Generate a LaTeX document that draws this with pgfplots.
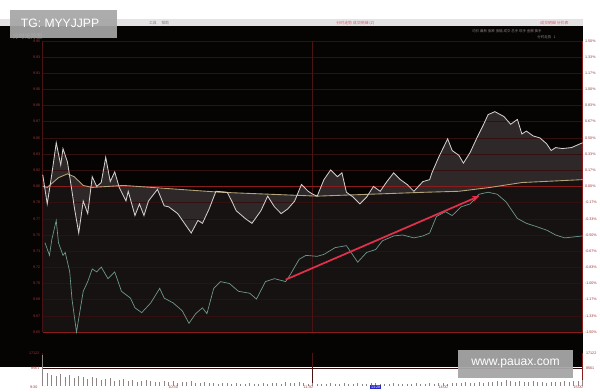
\documentclass[border=0pt]{standalone}
\usepackage{pgfplots}
\pgfplotsset{compat=1.18}
\usepgfplotslibrary{fillbetween}
\usetikzlibrary{arrows.meta}
\usepackage{fontspec}
\setmainfont{Liberation Sans}
\newfontfamily\cjk{Noto Sans CJK SC}
\definecolor{bg}{HTML}{060303}
\definecolor{gridc}{HTML}{321010}
\definecolor{vsep}{HTML}{481414}
\definecolor{redline}{HTML}{8A1C1C}
\definecolor{lab}{HTML}{9A3535}
\definecolor{pricec}{HTML}{D4D0D0}
\definecolor{avgc}{HTML}{B4A47A}
\definecolor{tealc}{HTML}{6E9A8E}
\definecolor{arrowc}{HTML}{E0304A}
\definecolor{volc}{HTML}{8E8484}
\definecolor{wm}{HTML}{A6A6A6}
\definecolor{toolbar}{HTML}{E4E2E2}
\definecolor{pinkt}{HTML}{D25A6E}
\definecolor{hdr}{HTML}{8C8282}
\definecolor{fillhi}{HTML}{2E2828}
\definecolor{filllo}{HTML}{161212}
\definecolor{cursor}{HTML}{2828C8}

\pgfdeclarelayer{canvas}
\pgfdeclarelayer{axis background}
\pgfdeclarelayer{axis grid}
\pgfdeclarelayer{axis ticks}
\pgfdeclarelayer{axis lines}
\pgfdeclarelayer{axis tick labels}
\pgfdeclarelayer{pre main}
\pgfdeclarelayer{axis descriptions}
\pgfdeclarelayer{axis foreground}
\pgfdeclarelayer{top}
\pgfplotsset{
  layers/mine/.define layer set={canvas,axis background,axis grid,axis ticks,axis lines,axis tick labels,pre main,main,axis descriptions,axis foreground,top}{},
  set layers=mine,
}

\pgfplotstableread{
t p
0 0.12
2 -0.18
4 0.12
6 0.45
8 0.22
9 0.39
11 0.25
13 -0.05
14 -0.21
16 -0.48
18 -0.15
20 -0.28
22 0.10
24 0.00
26 0.04
28 0.30
30 0.05
32 0.15
34 -0.01
37 -0.15
38 -0.05
41 -0.30
43 -0.18
45 -0.30
47 -0.15
51 -0.03
54 -0.20
56 -0.21
60 -0.28
63 -0.38
66 -0.48
69 -0.35
71 -0.38
74 -0.23
77 -0.05
82 -0.06
84 -0.15
86 -0.25
90 -0.33
93 -0.38
97 -0.25
100 -0.10
103 -0.21
106 -0.28
109 -0.23
112 -0.15
115 0.02
118 -0.05
120 -0.08
122 -0.10
125 0.07
128 0.17
131 0.10
133 0.14
135 -0.06
138 -0.11
141 -0.18
144 -0.11
147 0.00
150 -0.05
153 0.05
156 0.14
159 0.07
162 0.02
165 -0.05
167 0.00
169 0.05
172 0.07
173 0.14
176 0.30
180 0.49
182 0.37
185 0.32
187 0.24
190 0.35
193 0.50
196 0.64
198 0.74
201 0.77
205 0.72
208 0.64
211 0.69
213 0.54
215 0.57
218 0.52
221 0.50
224 0.44
226 0.37
228 0.40
231 0.39
235 0.40
240 0.45
}\pricedata

\pgfplotstableread{
t p
0 0.00
2 -0.01
7 0.09
11 0.13
14 0.10
18 0.01
22 -0.01
36 0.01
79 -0.06
122 -0.10
170 -0.06
185 -0.05
199 -0.01
213 0.04
240 0.07
}\avgdata

\pgfplotstableread{
t p
1 -0.58
3 -0.71
4 -0.55
6 -0.35
7 -0.58
9 -0.71
10 -0.68
12 -0.88
13 -1.16
15 -1.50
18 -1.08
20 -0.98
22 -0.85
24 -0.88
26 -0.83
29 -0.95
32 -0.88
35 -1.08
39 -1.15
41 -1.25
44 -1.30
48 -1.20
52 -1.05
54 -1.15
58 -1.20
62 -1.28
65 -1.41
68 -1.31
71 -1.25
73 -1.31
76 -1.05
79 -0.98
83 -1.00
87 -1.08
92 -1.10
95 -1.16
99 -0.98
103 -0.95
108 -0.98
110 -0.91
114 -0.75
117 -0.71
122 -0.72
125 -0.70
130 -0.63
135 -0.61
140 -0.78
144 -0.68
148 -0.65
151 -0.56
156 -0.51
160 -0.50
165 -0.53
169 -0.51
172 -0.48
175 -0.31
179 -0.26
182 -0.30
186 -0.21
190 -0.18
194 -0.08
198 -0.06
202 -0.08
206 -0.16
211 -0.33
215 -0.38
219 -0.41
224 -0.45
228 -0.50
232 -0.53
240 -0.51
}\tealdata

\pgfplotstableread{
t v
0 3200
2 1300
4 1100
6 1000
8 1200
10 900
12 1100
14 800
16 1000
18 900
20 700
22 900
24 800
26 600
28 700
30 800
32 500
34 600
36 700
38 500
40 600
42 450
44 500
46 650
48 500
50 400
52 450
54 550
56 400
58 500
60 350
62 450
64 400
66 500
68 350
70 300
72 400
74 300
76 350
78 250
80 300
82 350
84 250
86 300
88 250
90 200
92 300
94 250
96 200
98 300
100 250
102 350
104 300
106 250
108 400
110 300
112 350
114 450
116 300
118 250
120 300
122 250
124 200
126 250
128 300
130 200
132 250
134 300
136 200
138 250
140 300
142 250
144 200
146 300
148 350
150 250
152 200
154 250
156 300
158 200
160 250
162 200
164 250
166 300
168 250
170 200
172 300
174 250
176 350
178 300
180 250
182 300
184 350
186 300
188 400
190 350
192 300
194 400
196 350
198 450
200 400
202 500
204 450
206 600
208 500
210 450
212 550
214 400
216 450
218 500
220 400
222 450
224 350
226 400
228 450
230 400
232 500
234 450
236 550
238 500
240 600
}\voldata

\pgfplotsset{
  panel/.style={
    scale only axis, width=556pt, height=300pt,
    xmin=0, xmax=240, ymin=-1.5, ymax=1.5,
    axis line style={draw=none}, major tick length=0pt,
    xtick=\empty,
    ytick={-1.5,-1.3333,-1.1667,-1,-0.8333,-0.6667,-0.5,-0.3333,-0.1667,0,0.1667,0.3333,0.5,0.6667,0.8333,1,1.1667,1.3333,1.5},
    tick label style={font=\fontsize{3.8}{4}\selectfont, text=lab},
    /pgf/number format/assume math mode=true,
    clip=false,
  }
}

\begin{document}
\begin{tikzpicture}[x=1pt,y=1pt]
\pgfsetlayers{canvas,axis background,axis grid,axis ticks,axis lines,axis tick labels,pre main,main,axis descriptions,axis foreground,top}
\begin{pgfonlayer}{canvas}
\fill[white] (0,0) rectangle (600,400);
\fill[toolbar] (0,373) rectangle (600,380);
\fill[bg] (0,22) rectangle (600,373);
% toolbar texts
\node[font=\cjk\fontsize{4}{4}\selectfont, text=pinkt, anchor=west] at (343,376.5) {分时走势 成交明细 (Z)};
\node[font=\cjk\fontsize{4}{4}\selectfont, text=pinkt, anchor=west] at (553,376.5) {成交明细 分价表};
\node[font=\cjk\fontsize{4}{4}\selectfont, text=gray, anchor=west] at (150,376.5) {工具 \quad 帮助};
% header rows
\node[font=\cjk\fontsize{3.6}{4}\selectfont, text=hdr, anchor=west] at (483,368) {均价 最新 涨跌 涨幅 成交 总手 现手 金额 换手};
\node[font=\cjk\fontsize{3.6}{4}\selectfont, text=hdr, anchor=west] at (550,362) {分时走势 \, 1};
\node[font=\cjk\fontsize{6}{6}\selectfont, text=lightgray, anchor=west] at (10,363) {分时走势图};
\end{pgfonlayer}

% price panel with left labels
\begin{axis}[panel, at={(19,58)}, anchor=south west,
    ymajorgrids, major grid style={gridc, line width=0.5pt},
    yticklabel={\pgfmathparse{9.80*(1+\tick/100)}\pgfmathprintnumber[fixed,precision=2,fixed zerofill]{\pgfmathresult}},
    yticklabel style={xshift=1pt}]
  % fill under price line
  \addplot[draw=none, name path=price, forget plot] table[x=t, y=p] {\pricedata};
  \addplot[draw=none, name path=avg, forget plot] table[x=t, y=p] {\avgdata};
  \addplot[draw=none, name path=bot, forget plot] coordinates {(0,-1.5) (240,-1.5)};
  \addplot[fill=filllo, draw=none, forget plot] fill between[of=price and bot];
  \addplot[fill=fillhi, draw=none, forget plot] fill between[of=price and avg];
  % vertical separators
  \draw[vsep, line width=0.6pt] (axis cs:0,-1.5) -- (axis cs:0,1.5);
  \draw[vsep, line width=0.6pt] (axis cs:120,-1.5) -- (axis cs:120,1.5);
  \draw[redline, line width=0.6pt] (axis cs:240,-1.5) -- (axis cs:240,1.5);
  % key lines
  \draw[redline, line width=0.7pt] (axis cs:0,0) -- (axis cs:240,0);
  \draw[redline, line width=0.7pt] (axis cs:0,-1.5) -- (axis cs:240,-1.5);
  % series
  \addplot[tealc, line width=0.7pt] table[x=t, y=p] {\tealdata};
  \addplot[avgc, line width=0.9pt] table[x=t, y=p] {\avgdata};
  \addplot[pricec, line width=0.85pt] table[x=t, y=p] {\pricedata};
  % annotation arrow
  \draw[arrowc, line width=1.8pt, -{Stealth[length=7pt,width=6pt]}] (axis cs:108,-0.96) -- (axis cs:194,-0.10);
\end{axis}

% right labels
\begin{axis}[panel, at={(19,58)}, anchor=south west,
    axis y line*=right,
    yticklabel={\pgfmathprintnumber[fixed,precision=2,fixed zerofill]{\tick}\%},
    yticklabel style={xshift=-1pt}]
  \addplot[draw=none] coordinates {(0,0)};
\end{axis}

% volume panel
\begin{axis}[scale only axis, width=556pt, height=34pt, at={(19,24)}, anchor=south west,
    xmin=0, xmax=240, ymin=0, ymax=3400,
    axis line style={draw=none}, major tick length=0pt,
    ytick={1800}, yticklabels={8561},
    ymajorgrids, major grid style={gridc, line width=0.5pt},
    xtick=\empty,
    tick label style={font=\fontsize{3.8}{4}\selectfont, text=lab},
    /pgf/number format/assume math mode=true,
    clip=false]
  \draw[vsep, line width=0.6pt] (axis cs:0,0) -- (axis cs:0,3400);
  \draw[vsep, line width=0.6pt] (axis cs:120,0) -- (axis cs:120,3400);
  \draw[redline, line width=0.6pt] (axis cs:240,0) -- (axis cs:240,3400);
  \addplot[ycomb, volc, line width=0.9pt, mark=none] table[x=t, y=v] {\voldata};
  \node[font=\fontsize{3.8}{4}\selectfont, text=lab, anchor=east] at (axis cs:0,3400) {17122};
  \node[font=\fontsize{3.8}{4}\selectfont, text=lab, anchor=west] at (axis cs:240,3400) {17122};
  \node[font=\fontsize{3.8}{4}\selectfont, text=lab, anchor=west] at (axis cs:240,1800) {8561};
  \node[font=\fontsize{3.8}{4}\selectfont, text=lab] at (axis cs:-4,-100) {9:30};
  \node[font=\fontsize{3.8}{4}\selectfont, text=lab] at (axis cs:58,-100) {10:30};
  \node[font=\fontsize{3.8}{4}\selectfont, text=lab] at (axis cs:118,-100) {11:30};
  \node[font=\fontsize{3.8}{4}\selectfont, text=lab] at (axis cs:178,-100) {14:00};
  \node[font=\fontsize{3.8}{4}\selectfont, text=lab] at (axis cs:238,-100) {15:00};
  \node[font=\fontsize{3.8}{4}\selectfont, text=white, fill=cursor, inner sep=0.6pt] at (axis cs:148,-100) {13:28};
\end{axis}

% watermarks
\begin{pgfonlayer}{top}
\fill[wm, opacity=0.92] (10,361) rectangle (120,390);
\node[font=\fontsize{12.5}{13}\selectfont, text=white, anchor=west] at (18,376) {TG: MYYJJPP};
\fill[wm, opacity=0.95] (472,11) rectangle (590,40);
\node[font=\fontsize{12.5}{13}\selectfont, text=white] at (531,25.5) {www.pauax.com};
\end{pgfonlayer}
\end{tikzpicture}
\end{document}
